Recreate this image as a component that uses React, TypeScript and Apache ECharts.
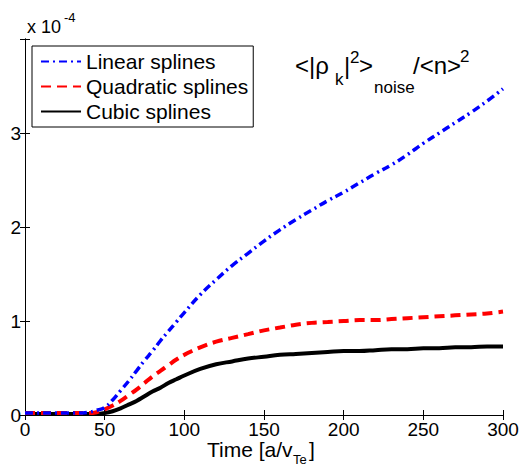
import React, { useEffect, useRef } from "react";
import * as echarts from "echarts";

// Time in a/v_Te
const time = [0, 10, 20, 30, 40, 45, 50, 55, 60, 65, 70, 75, 80, 85, 90, 95, 100, 110, 120, 130, 140, 150, 160, 170, 180, 190, 200, 210, 220, 230, 240, 250, 260, 270, 280, 290, 300];
// values in units of 1e-4
const linearSplines = [0.02, 0.02, 0.02, 0.02, 0.03, 0.05, 0.08, 0.16, 0.26, 0.36, 0.47, 0.58, 0.68, 0.79, 0.89, 0.99, 1.09, 1.28, 1.44, 1.59, 1.72, 1.85, 1.97, 2.08, 2.18, 2.28, 2.37, 2.47, 2.57, 2.66, 2.77, 2.89, 3.0, 3.11, 3.22, 3.34, 3.47];
const quadraticSplines = [0.02, 0.02, 0.02, 0.02, 0.02, 0.03, 0.06, 0.1, 0.15, 0.21, 0.27, 0.34, 0.41, 0.47, 0.53, 0.59, 0.64, 0.72, 0.78, 0.82, 0.86, 0.9, 0.93, 0.96, 0.98, 0.99, 1.0, 1.01, 1.01, 1.02, 1.03, 1.04, 1.05, 1.06, 1.07, 1.08, 1.1];
const cubicSplines = [0.01, 0.01, 0.01, 0.01, 0.01, 0.01, 0.02, 0.04, 0.07, 0.11, 0.15, 0.2, 0.25, 0.29, 0.34, 0.38, 0.42, 0.49, 0.54, 0.57, 0.6, 0.62, 0.64, 0.65, 0.66, 0.67, 0.68, 0.68, 0.69, 0.7, 0.7, 0.71, 0.71, 0.72, 0.72, 0.73, 0.73];
const seriesNames = ["Linear splines", "Quadratic splines", "Cubic splines"];
const xTickStep = 50;
const yTickStep = 1;

const FONT = '"Liberation Sans", Arial, Helvetica, sans-serif';

function pairs(ys: number[]) {
  return time.map((t, i) => [t, ys[i]]);
}

// baseline -> middle y for Liberation Sans
function mid(baseline: number, fs: number) {
  return baseline - 0.35 * fs;
}

function txt(s: string, x: number, baseline: number, fs: number) {
  return {
    type: "text",
    x,
    y: mid(baseline, fs),
    silent: true,
    style: {
      text: s,
      fontSize: fs,
      fontFamily: FONT,
      fill: "#000",
      align: "left",
      verticalAlign: "middle",
    },
  };
}

export default function App() {
  const ref = useRef<HTMLDivElement>(null);
  useEffect(() => {
    const chart = echarts.init(ref.current!, null, { renderer: "svg" });
    const axisLine = { show: true, lineStyle: { color: "#000", width: 1 } };
    const tick = { show: true, inside: true, length: 5, lineStyle: { color: "#000", width: 1 } };
    chart.setOption({
      animation: false,
      backgroundColor: "#fff",
      textStyle: { fontFamily: FONT },
      grid: { left: 25, right: 24, top: 39, bottom: 51 },
      legend: {
        orient: "vertical",
        left: 32,
        top: 46,
        width: 216,
        padding: [5, 5, 5, 8],
        itemGap: 4,
        itemWidth: 40,
        itemHeight: 14,
        borderColor: "#000",
        borderWidth: 1,
        backgroundColor: "#fff",
        data: seriesNames,
        itemStyle: { opacity: 0 },
        textStyle: { fontSize: 21, color: "#000", fontFamily: FONT, padding: [0, 0, 0, 0] },
      },
      xAxis: [
        {
          type: "value",
          min: 0,
          max: 300,
          interval: xTickStep,
          position: "bottom",
          axisLine,
          axisTick: tick,
          splitLine: { show: false },
          axisLabel: { fontSize: 19, color: "#000", margin: 5, fontFamily: FONT },
        },
        {
          type: "value",
          min: 0,
          max: 300,
          interval: xTickStep,
          position: "top",
          axisLine,
          axisTick: tick,
          splitLine: { show: false },
          axisLabel: { show: false },
        },
      ],
      yAxis: [
        {
          type: "value",
          min: 0,
          max: 4,
          interval: yTickStep,
          position: "left",
          axisLine,
          axisTick: tick,
          splitLine: { show: false },
          axisLabel: {
            fontSize: 19,
            color: "#000",
            margin: 4,
            fontFamily: FONT,
            formatter: (v: number) => (v >= 4 ? "" : String(v)),
          },
        },
        {
          type: "value",
          min: 0,
          max: 4,
          interval: yTickStep,
          position: "right",
          axisLine,
          axisTick: tick,
          splitLine: { show: false },
          axisLabel: { show: false },
        },
      ],
      series: [
        {
          name: seriesNames[0],
          type: "line",
          data: pairs(linearSplines),
          symbol: "none",
          smooth: 0.4,
          z: 4,
          color: "#0000ff",
          lineStyle: { color: "#0000ff", width: 3.5, type: [8, 4, 2, 4] },
        },
        {
          name: seriesNames[1],
          type: "line",
          data: pairs(quadraticSplines),
          symbol: "none",
          smooth: 0.4,
          z: 3,
          color: "#ff0000",
          lineStyle: { color: "#ff0000", width: 4, type: [10, 6] },
        },
        {
          name: seriesNames[2],
          type: "line",
          data: pairs(cubicSplines),
          symbol: "none",
          smooth: 0.4,
          z: 2,
          color: "#000000",
          lineStyle: { color: "#000000", width: 4, type: "solid" },
        },
      ],
      graphic: [
        txt("x 10", 27, 33, 18),
        txt("-4", 64, 22, 13),
        txt("<|\u03c1", 295, 74, 24),
        txt("k", 335, 85, 17),
        txt("|", 344, 74, 24),
        txt("2", 350, 63, 17),
        txt(">", 359, 74, 24),
        txt("noise", 374, 93, 17),
        txt("/<n>", 413, 74, 24),
        txt("2", 460, 62, 17),
        txt("Time [a/v", 207, 457, 21),
        txt("Te", 293, 464, 13),
        txt("]", 309, 457, 21),
      ],
    });
    return () => chart.dispose();
  }, []);
  return <div ref={ref} style={{ position: "fixed", left: 0, top: 0, width: 527, height: 466 }} />;
}
